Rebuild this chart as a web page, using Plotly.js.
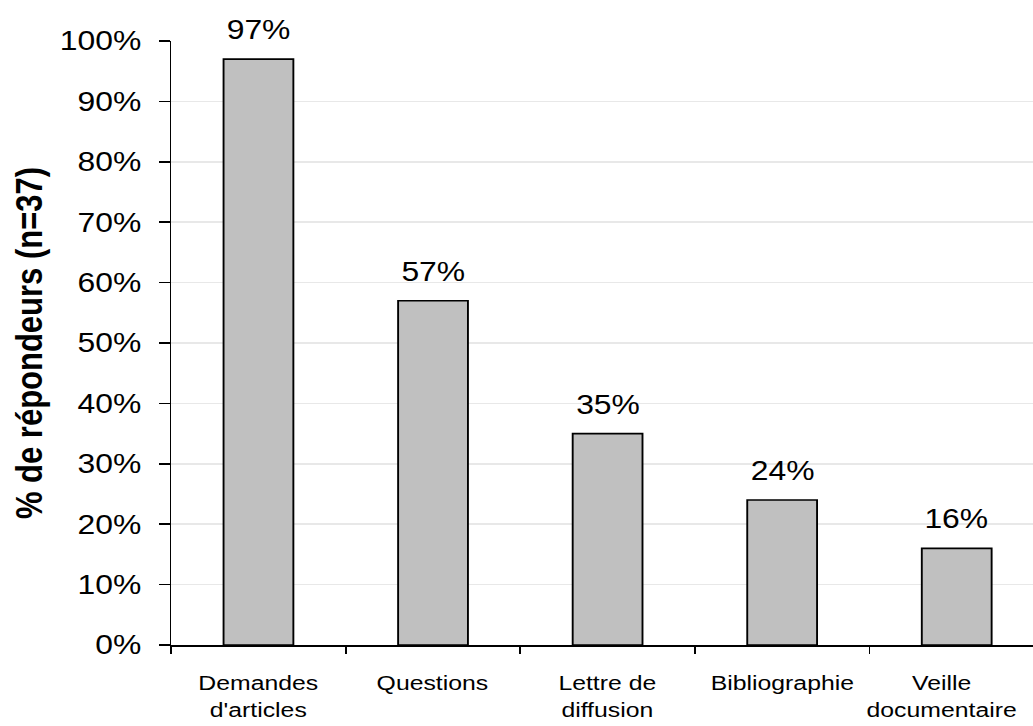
<!DOCTYPE html>
<html>
<head>
<meta charset="utf-8">
<script src="https://cdn.plot.ly/plotly-3.0.1.min.js"></script>
<style>
html,body{margin:0;padding:0;background:#fff;overflow:hidden;width:1033px;height:726px}
#chart{width:875px;height:726px;transform:scaleX(1.18057);transform-origin:0 0}
</style>
</head>
<body>
<div id="chart"></div>
<script>
const categories = ["Demandes<br>d'articles", "Questions", "Lettre de<br>diffusion", "Bibliographie", "Veille<br>documentaire"];
const values = [0.97, 0.57, 0.35, 0.24, 0.16];
const valueLabels = ["97%", "57%", "35%", "24%", "16%"];
const yTickVals = [0, 0.1, 0.2, 0.3, 0.4, 0.5, 0.6, 0.7, 0.8, 0.9, 1.0];
const yTickText = ["0%", "10%", "20%", "30%", "40%", "50%", "60%", "70%", "80%", "90%", "100%"];

const font = "Liberation Sans, Arial, sans-serif";
const trace = {
  type: 'bar',
  x: categories,
  y: values,
  marker: {color: '#c0c0c0', line: {color: '#000', width: 1.6}},
  hoverinfo: 'none'
};
const valueAnnotations = categories.map((c, i) => ({
  x: c, y: values[i], xref: 'x', yref: 'y',
  text: valueLabels[i], showarrow: false,
  yanchor: 'bottom', yshift: 12,
  font: {family: font, size: 27, color: '#000'}
}));
// category labels drawn as annotations so the last one can be nudged inside the frame
const categoryAnnotations = categories.map((c, i) => ({
  x: c, y: 0, xref: 'x', yref: 'paper',
  text: c, showarrow: false,
  yanchor: 'top', yshift: -24,
  xshift: i === categories.length - 1 ? -13 : 0,
  align: 'center',
  font: {family: font, size: 21, color: '#000'}
}));
const layout = {
  width: 875, height: 726,
  margin: {l: 145.3, r: 0, t: 41, b: 80.5},
  paper_bgcolor: '#fff', plot_bgcolor: '#fff',
  showlegend: false,
  bargap: 0.6,
  font: {family: font, color: '#000'},
  annotations: valueAnnotations.concat(categoryAnnotations),
  xaxis: {
    type: 'category',
    range: [-0.5, 4.437],
    tickson: 'boundaries',
    ticks: 'outside', ticklen: 7, tickwidth: 1.4, tickcolor: '#000',
    showline: true, linecolor: '#000', linewidth: 1.6,
    showgrid: false,
    showticklabels: false,
    automargin: false
  },
  yaxis: {
    range: [0, 1.0],
    tickvals: yTickVals, ticktext: yTickText,
    ticks: 'outside', ticklen: 8.5, tickwidth: 1.6, tickcolor: '#000',
    showline: true, linecolor: '#000', linewidth: 1.4,
    showgrid: true, gridcolor: '#e8e8e8', gridwidth: 1.6,
    zeroline: false,
    ticklabelstandoff: 10,
    tickfont: {family: font, size: 27, color: '#000'},
    title: {text: '<b>% de répondeurs (n=37)</b>', font: {family: font, size: 31, color: '#000'}, standoff: 5},
    automargin: false
  }
};
Plotly.newPlot('chart', [trace], layout, {displayModeBar: false, staticPlot: true});
</script>
</body>
</html>
